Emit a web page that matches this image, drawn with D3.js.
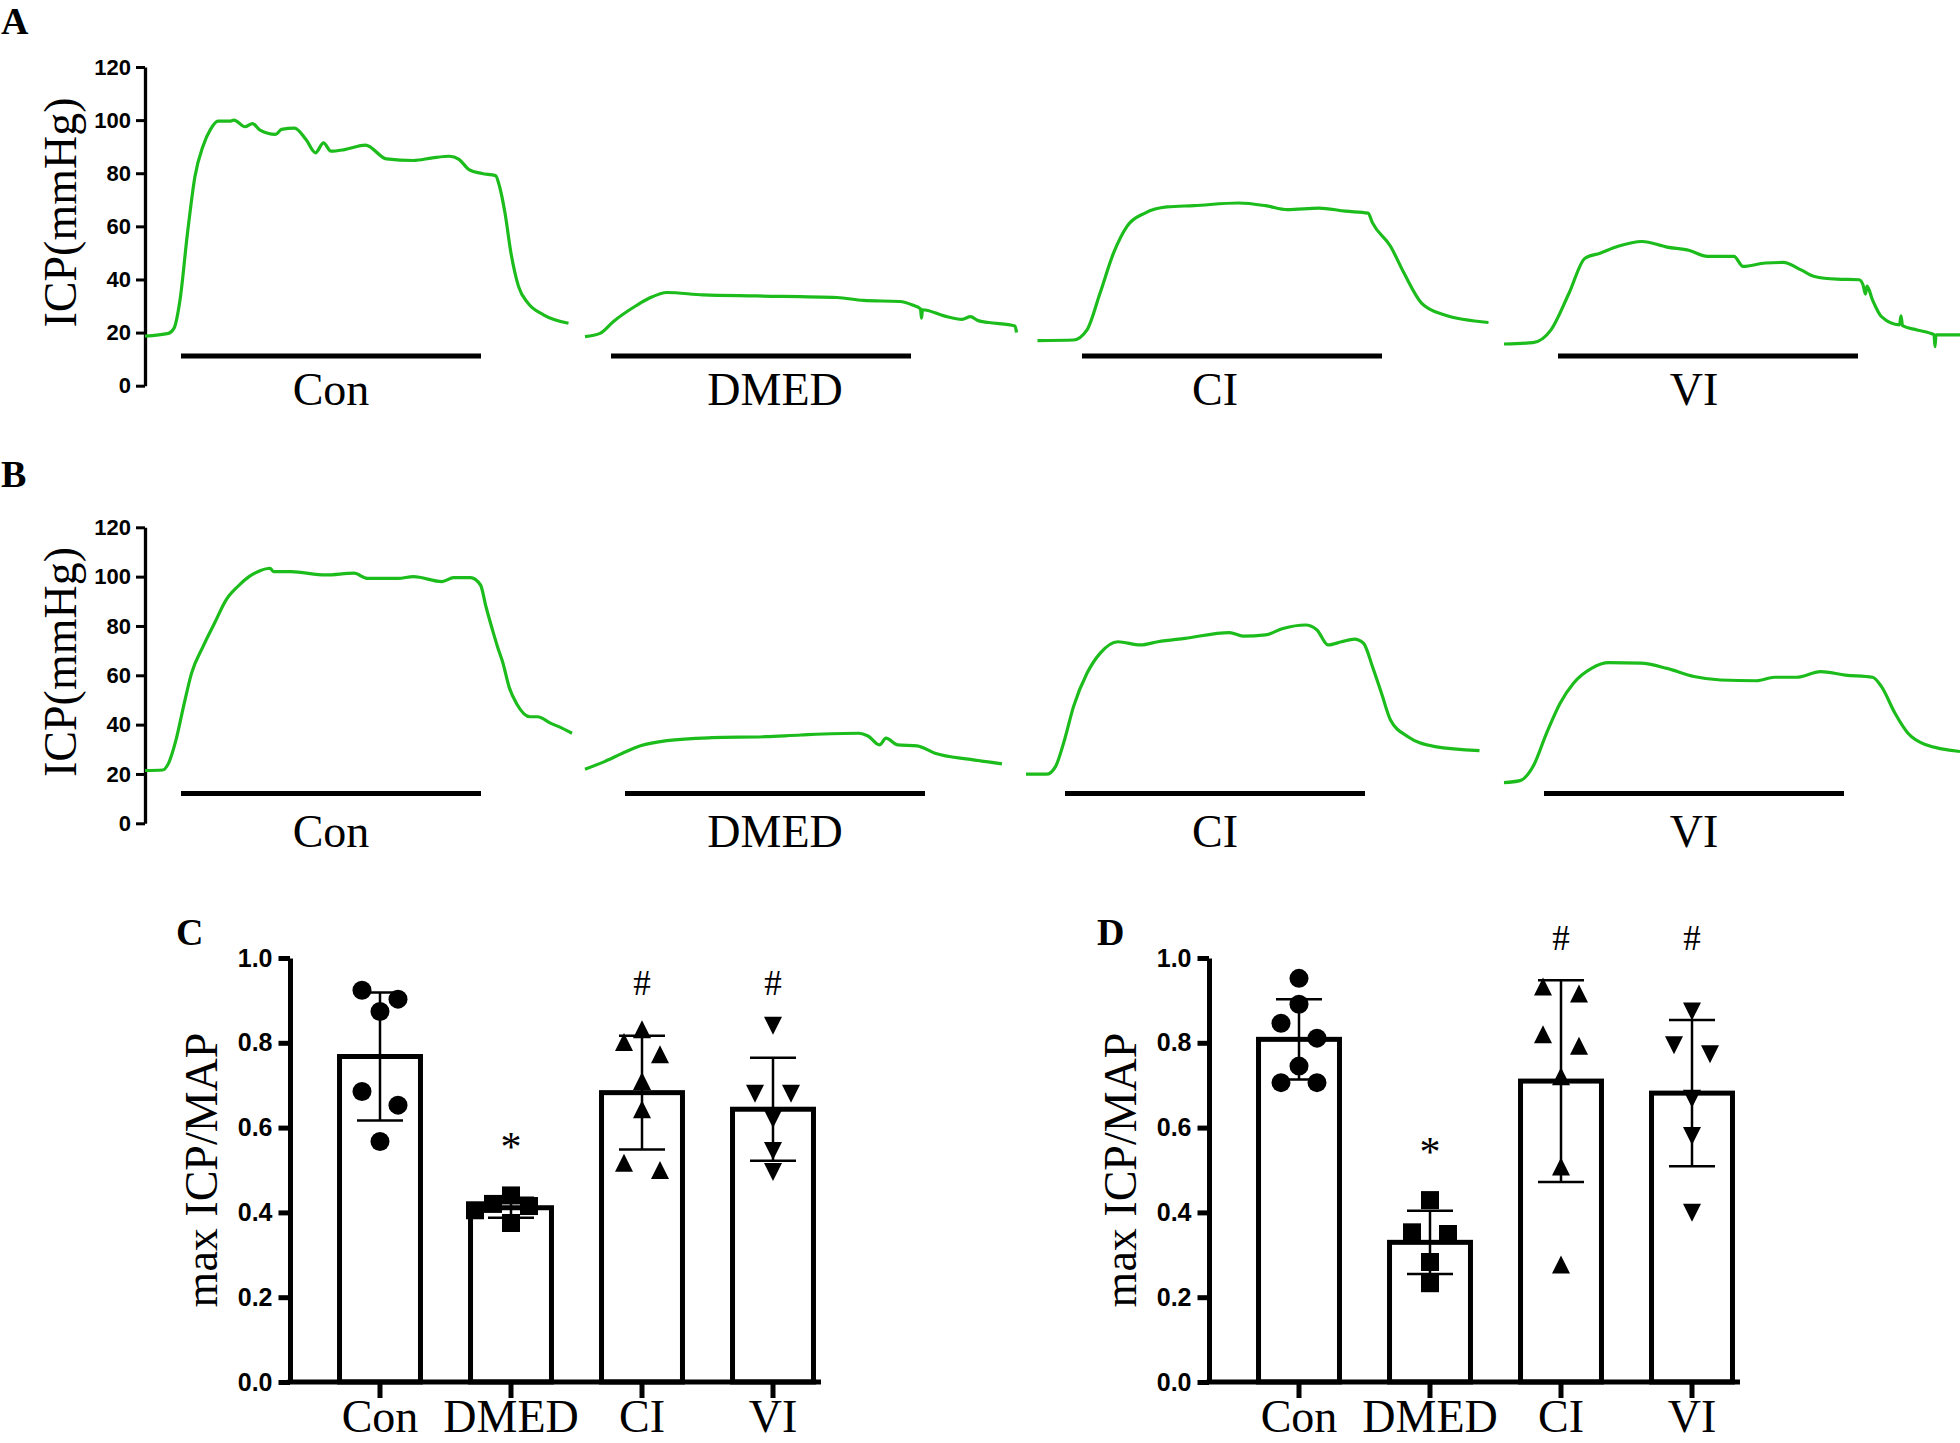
<!DOCTYPE html>
<html><head><meta charset="utf-8">
<script src="https://cdn.jsdelivr.net/npm/d3@7"></script>
<style>body{margin:0;background:#fff}svg{display:block}</style>
</head><body>
<svg id="chart" width="1960" height="1443"></svg>
<script>
// ================= DATA =================
const groups = ["Con", "DMED", "CI", "VI"];
const icpTicks = [0, 20, 40, 60, 80, 100, 120];
const ratioTicks = [0, 0.2, 0.4, 0.6, 0.8, 1.0];

// Panel A traces: [time (s), ICP (mmHg)]
const traceA_Con = [[0,18.7],[4.7,19.7],[5.8,21.6],[7.0,32.3],[8.5,57.5],[10.0,78.9],[11.6,90.2],[13.1,96.5],[14.6,99.6],[16.9,99.6],[17.8,100],[20.0,97.5],[21.5,98.7],[23.0,96.2],[26.1,94.6],[27.3,96.5],[29.9,97],[32.2,92.7],[34.1,87.7],[35.7,91.4],[37.2,88.3],[39.9,88.9],[44.1,90.6],[48.3,85.4],[53.7,84.8],[57.5,85.8],[60.9,86.4],[62.8,85.2],[64.8,81.4],[67.4,79.9],[70.1,79.1],[70.9,75.1],[72.0,65],[73.2,49.9],[74.7,37.4],[76.6,31.1],[79.7,26.7],[84.7,23.5]];
const traceA_DMED = [[88.0,18.5],[91.0,19.7],[93.7,24.2],[98.2,30.1],[100.9,33],[104.4,35.1],[111.6,34.2],[122.3,33.8],[138.4,33.2],[143.7,32.1],[150.9,31.7],[153.5,30.4],[155.1,28.9],[155.3,25.4],[155.5,28.6],[159.8,26.3],[163.4,25],[165.1,26],[166.6,24.5],[168.7,23.8],[174.0,22.5],[174.3,20]];
const traceA_CI = [[178.5,17.0],[185.7,17.2],[188.4,21.0],[191.0,34.8],[193.7,49.9],[196.4,60],[200.0,65],[204.4,67.3],[209.8,67.8],[218.7,68.8],[224.1,67.8],[228.5,66.3],[234.8,66.9],[240.1,65.7],[244.6,65],[245.5,61.3],[249.1,52.5],[251.8,42.4],[255.3,31.1],[259.8,26.7],[268.7,23.8]];
const traceA_VI = [[271.8,15.7],[277.6,16.2],[281.2,21],[284.8,34.8],[288.0,48],[291.0,49.9],[294.6,52.5],[299.4,54.3],[304.4,52.2],[308.9,50.9],[312.5,48.7],[317.8,48.7],[319.6,44.9],[324.1,46.2],[327.6,46.4],[331.2,43.6],[333.9,41.1],[338.4,40.1],[342.8,39.9],[343.6,38],[344.1,34.5],[344.4,37.5],[345.5,32.3],[347.3,26],[350.9,22.9],[351.2,26.3],[351.5,22.6],[354.4,21],[357.8,19.2],[358.0,14.7],[358.2,19.1],[363.0,19.1]];

// Panel B traces: [time (s), ICP (mmHg)]
const traceB_Con = [[0,21.4],[3.5,21.6],[4.7,24.3],[6.2,33.8],[7.7,47.3],[9.3,60.8],[11.6,71.6],[13.9,81.1],[16.2,90.5],[18.5,95.9],[20.8,100],[23.0,102.4],[25.0,103.4],[25.7,102],[29.2,102],[36.1,100.7],[41.8,101.4],[44.5,99.3],[50.6,99.3],[53.7,100],[59.4,98],[61.7,99.6],[65.1,99.6],[67.1,96.6],[68.2,87.8],[69.7,77],[70.5,71.6],[71.6,64.9],[72.8,55.4],[74.3,48.6],[77.0,43.2],[78.5,43.2],[81.2,40.5],[83.5,38.5],[85.4,36.5]];
const traceB_DMED = [[88.0,21.9],[91.9,25],[95.5,28.4],[99.1,31.4],[104.4,33.5],[113.4,34.7],[124.1,35.1],[131.2,35.8],[142.8,36.5],[144.6,35.4],[146.9,31.8],[148.2,34.5],[150.5,31.8],[154.4,31.4],[158.0,28.4],[165.1,25.9],[171.4,24.1]];
const traceB_CI = [[176.2,19.9],[180.3,19.9],[182.1,23],[183.9,33.8],[185.7,47.3],[188.4,60.8],[191.0,68.9],[194.6,73.6],[199.1,72.3],[202.6,73.6],[208.0,75],[216.9,77.3],[219.6,75.9],[224.1,76.4],[227.6,79],[232.1,80.4],[234.4,78.4],[236.6,72.3],[239.3,73.6],[241.9,74.7],[243.7,73],[245.5,63.5],[247.3,52.7],[249.1,41.9],[252.6,35.1],[258.0,31.1],[266.9,29.5]];
const traceB_VI = [[271.8,16.5],[275.0,17.3],[277.6,23],[280.3,36.5],[283.0,48.6],[285.7,56.8],[289.3,62.8],[292.8,65.1],[299.1,64.9],[304.4,62.8],[309.8,59.5],[315.1,58.1],[322.3,57.8],[325.9,59.2],[330.3,59.2],[335.1,61.5],[340.1,60.1],[345.5,59.2],[347.3,55.4],[350.0,44.6],[352.6,36.5],[356.2,31.8],[363.0,29.1]];

// Stimulation periods (start time, s) and duration
const stimA = [7.2, 93.2, 187.4, 282.6];
const stimB = [7.2, 96.0, 184.0, 279.8];
const stimDuration = 60;

// Panel C: max ICP/MAP individual values
const ratioC_Con  = [0.903, 0.924, 0.874, 0.685, 0.653, 0.567];
const ratioC_DMED = [0.44, 0.42, 0.415, 0.405, 0.375];
const ratioC_CI   = [0.832, 0.802, 0.773, 0.71, 0.643, 0.5, 0.517];
const ratioC_VI   = [0.84, 0.68, 0.68, 0.62, 0.545, 0.495];
// Panel D
const ratioD_Con  = [0.952, 0.891, 0.846, 0.811, 0.745, 0.706, 0.706];
const ratioD_DMED = [0.429, 0.349, 0.353, 0.283, 0.233];
const ratioD_CI   = [0.933, 0.916, 0.82, 0.793, 0.721, 0.508, 0.277];
const ratioD_VI   = [0.874, 0.794, 0.773, 0.668, 0.58, 0.399];

const sigC = ["", "*", "#", "#"];
const sigD = ["", "*", "#", "#"];

// ================= DRAWING =================
const svg = d3.select("#chart");
const SERIF = "'Liberation Serif','Times New Roman',Times,serif";
const SANS = "'Liberation Sans',Arial,Helvetica,sans-serif";
const GREEN = "#1cbc1c";

const xT = d3.scaleLinear().domain([0, 363]).range([145, 1960]);

function panelLetter(txt, x, y) {
  svg.append("text").attr("x", x).attr("y", y).text(txt)
    .attr("font-family", SERIF).attr("font-weight", "bold").attr("font-size", 38).attr("fill", "#000");
}

function tracePanel(traces, stims, labelStims, y0px, y120px, titleY, labelBaseline, stimLevel) {
  const y = d3.scaleLinear().domain([0, 120]).range([y0px, y120px]);
  const ax = svg.append("g").attr("transform", `translate(${xT(0)},0)`)
    .call(d3.axisLeft(y).tickValues(icpTicks).tickSizeInner(9).tickSizeOuter(0).tickPadding(5));
  ax.attr("font-family", SANS).attr("font-size", 22).attr("font-weight", "bold");
  ax.selectAll("line").attr("stroke", "#000").attr("stroke-width", 3);
  ax.select(".domain").attr("stroke", "#000").attr("stroke-width", 3.3);
  ax.selectAll("text").attr("fill", "#000");

  svg.append("text")
    .attr("transform", `translate(76,${titleY}) rotate(-90)`)
    .attr("text-anchor", "middle").attr("font-family", SERIF).attr("font-size", 46)
    .attr("fill", "#000").text("ICP(mmHg)");

  const line = d3.line().x(d => xT(d[0])).y(d => y(d[1])).curve(d3.curveMonotoneX);
  svg.append("g").selectAll("path").data(traces).join("path")
    .attr("d", line).attr("fill", "none").attr("stroke", GREEN)
    .attr("stroke-width", 3.2).attr("stroke-linejoin", "round");

  svg.append("g").selectAll("line").data(stims).join("line")
    .attr("x1", d => xT(d)).attr("x2", d => xT(d + stimDuration))
    .attr("y1", y(stimLevel)).attr("y2", y(stimLevel))
    .attr("stroke", "#000").attr("stroke-width", 5);

  svg.append("g").selectAll("text").data(groups).join("text")
    .attr("x", (d, i) => xT(labelStims[i] + stimDuration / 2))
    .attr("y", labelBaseline)
    .attr("text-anchor", "middle").attr("font-family", SERIF).attr("font-size", 46)
    .attr("fill", "#000").text(d => d);
}

// custom triangle symbols
const symTriUp = { draw(ctx, size) { const s = Math.sqrt(size);
  ctx.moveTo(0, -s / 2); ctx.lineTo(s / 2, s / 2); ctx.lineTo(-s / 2, s / 2); ctx.closePath(); } };
const symTriDown = { draw(ctx, size) { const s = Math.sqrt(size);
  ctx.moveTo(0, s / 2); ctx.lineTo(s / 2, -s / 2); ctx.lineTo(-s / 2, -s / 2); ctx.closePath(); } };
const markerTypes = [d3.symbolCircle, d3.symbolSquare, symTriUp, symTriDown];
const markerSizes = [Math.PI * 9.5 * 9.5, 18 * 18, 18 * 18, 18 * 18];

// scatter dodge layout (pixel based)
function dodge(values, y, step, minDist) {
  const n = values.length;
  const py = values.map(v => y(v));
  const idx = d3.range(n).sort((a, b) => values[b] - values[a]);
  const pairs = [];
  for (let k = 0; k < n - 1; k++) {
    const a = idx[k], b = idx[k + 1];
    const g = Math.abs(py[a] - py[b]);
    if (g < minDist) pairs.push([g, a, b]);
  }
  pairs.sort((p, q) => p[0] - q[0]);
  const used = new Set(), pref = new Array(n).fill(0);
  for (const [g, a, b] of pairs) {
    if (used.has(a) || used.has(b)) continue;
    used.add(a); used.add(b); pref[a] = -1; pref[b] = 1;
  }
  const off = new Array(n).fill(0), placed = [];
  const order = [0, -1, 1, -2, 2, -3, 3];
  for (const i of idx) {
    const cands = [pref[i], ...order.filter(o => o !== pref[i])];
    for (const c of cands) {
      const ok = placed.every(j => Math.hypot((off[j] - c) * step, py[j] - py[i]) >= minDist - 1);
      if (ok) { off[i] = c; placed.push(i); break; }
    }
  }
  return off.map(o => o * step);
}

function barPanel(ax0, datasets, sig) {
  const y = d3.scaleLinear().domain([0, 1]).range([1382, 958]);
  const x = d3.scaleBand().domain(groups).range([ax0, ax0 + 573]).paddingInner(0.382).paddingOuter(0.378);
  const bw = x.bandwidth();
  const stats = datasets.map(v => ({ mean: d3.mean(v), sd: d3.deviation(v), max: d3.max(v) }));

  // bars
  svg.append("g").selectAll("rect").data(groups).join("rect")
    .attr("x", d => x(d)).attr("width", bw)
    .attr("y", (d, i) => y(stats[i].mean)).attr("height", (d, i) => y(0) - y(stats[i].mean))
    .attr("fill", "#fff").attr("stroke", "#000").attr("stroke-width", 5);

  // points
  datasets.forEach((vals, gi) => {
    const offs = dodge(vals, y, 18, 19.5);
    const sym = d3.symbol().type(markerTypes[gi]).size(markerSizes[gi]);
    svg.append("g").selectAll("path").data(vals).join("path")
      .attr("transform", (v, i) => `translate(${x(groups[gi]) + bw / 2 + offs[i]},${y(v)})`)
      .attr("d", sym()).attr("fill", "#000");
  });

  // error bars (mean ± SD)
  const eb = svg.append("g").attr("stroke", "#000").attr("stroke-width", 2.5);
  groups.forEach((g, i) => {
    const cx = x(g) + bw / 2, s = stats[i];
    eb.append("line").attr("x1", cx).attr("x2", cx).attr("y1", y(s.mean - s.sd)).attr("y2", y(s.mean + s.sd));
    [s.mean - s.sd, s.mean + s.sd].forEach(v => eb.append("line")
      .attr("x1", cx - 23).attr("x2", cx + 23).attr("y1", y(v)).attr("y2", y(v)));
  });

  // axes
  const ya = svg.append("g").attr("transform", `translate(${ax0},0)`)
    .call(d3.axisLeft(y).tickValues(ratioTicks).tickFormat(d3.format(".1f")).tickSizeInner(11.5).tickSizeOuter(0).tickPadding(6));
  ya.attr("font-family", SANS).attr("font-size", 25).attr("font-weight", "bold");
  ya.selectAll("line").attr("stroke", "#000").attr("stroke-width", 5);
  ya.select(".domain").attr("stroke", "#000").attr("stroke-width", 5);
  ya.selectAll("text").attr("fill", "#000");

  const xa = svg.append("g").attr("transform", `translate(0,${y(0)})`)
    .call(d3.axisBottom(x).tickSizeInner(16).tickSizeOuter(0));
  xa.select(".domain").remove();
  xa.selectAll("line").attr("stroke", "#000").attr("stroke-width", 5);
  xa.selectAll("text").attr("y", 1432 - y(0)).attr("dy", 0)
    .attr("font-family", SERIF).attr("font-size", 46).attr("fill", "#000");
  svg.append("line").attr("x1", ax0 - 2.5).attr("x2", x(groups[3]) + bw + 7.5)
    .attr("y1", y(0)).attr("y2", y(0)).attr("stroke", "#000").attr("stroke-width", 5);

  // y title
  svg.append("text")
    .attr("transform", `translate(${ax0 - 73},${(y(0) + y(1)) / 2}) rotate(-90)`)
    .attr("text-anchor", "middle").attr("font-family", SERIF).attr("font-size", 46)
    .attr("fill", "#000").text("max ICP/MAP");

  // significance marks
  const tops = stats.map(s => Math.max(s.max, s.mean + s.sd));
  const hashLevel = d3.max(groups.map((g, i) => sig[i] === "#" ? tops[i] : -Infinity)) + 0.1;
  groups.forEach((g, i) => {
    if (!sig[i]) return;
    const isStar = sig[i] === "*";
    const lvl = isStar ? tops[i] + 0.125 : hashLevel;
    svg.append("text").attr("x", x(g) + bw / 2)
      .attr("y", y(lvl) + (isStar ? 19 : 12))
      .attr("text-anchor", "middle").attr("font-family", SERIF)
      .attr("font-size", isStar ? 42 : 35).attr("fill", "#000").text(sig[i]);
  });
}

// Panel A
panelLetter("A", 1, 34);
tracePanel([traceA_Con, traceA_DMED, traceA_CI, traceA_VI], stimA, stimB, 385.7, 67, 212.5, 405, 11.2);
// Panel B
panelLetter("B", 1, 487);
tracePanel([traceB_Con, traceB_DMED, traceB_CI, traceB_VI], stimB, stimB, 823.3, 527.3, 662, 847, 12.1);
// Panel C
panelLetter("C", 176, 945);
barPanel(290, [ratioC_Con, ratioC_DMED, ratioC_CI, ratioC_VI], sigC);
// Panel D
panelLetter("D", 1097, 945);
barPanel(1209, [ratioD_Con, ratioD_DMED, ratioD_CI, ratioD_VI], sigD);
</script>
</body></html>
